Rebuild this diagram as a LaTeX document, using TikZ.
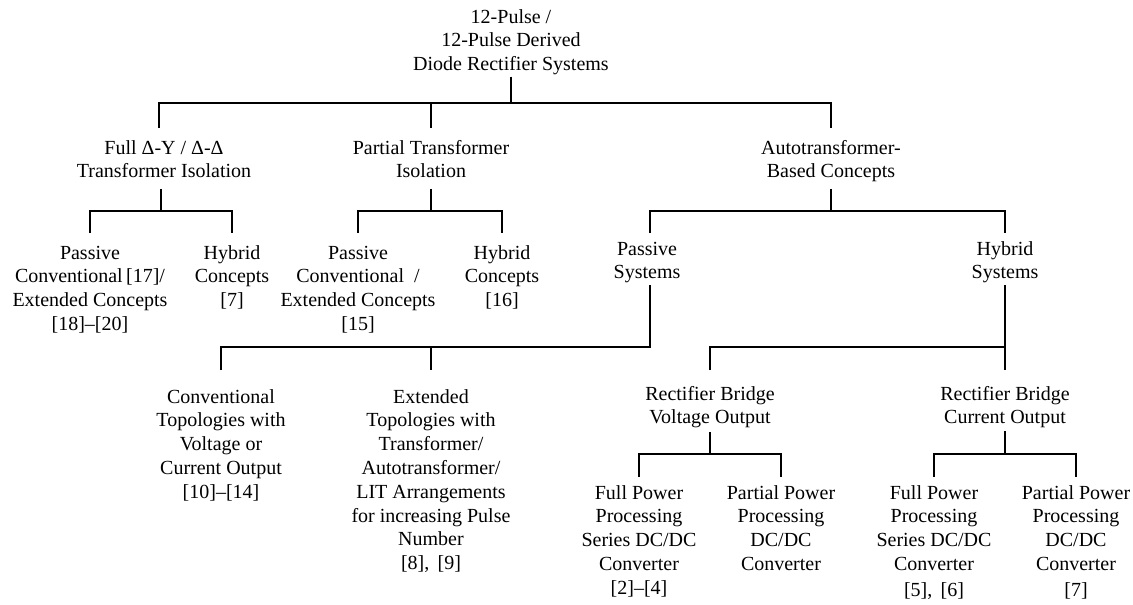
\documentclass[tikz,border=0pt]{standalone}
\usepackage{fontspec}
\setmainfont{Liberation Serif}
\newcommand{\mystrut}{\rule[-6pt]{0pt}{21pt}}
\begin{document}
\begin{tikzpicture}[x=1pt,y=-1pt,
  lbl/.style={align=center, inner sep=0pt, outer sep=0pt, anchor=north,
    font=\fontsize{20}{23.8}\selectfont},
  link/.style={line width=1.6pt, draw=black}]
\useasboundingbox (0,0) rectangle (1133,605);

% nodes (y = first baseline - 15)
\node[lbl] (root) at (511,8) {\mystrut 12-Pulse /\\12-Pulse Derived\\Diode Rectifier Systems\mystrut};
\node[lbl] (full) at (164,139) {\mystrut Full Δ-Y / Δ-Δ\\Transformer Isolation\mystrut};
\node[lbl] (partial) at (431,139) {\mystrut Partial Transformer\\Isolation\mystrut};
\node[lbl] (auto) at (831,139) {\mystrut Autotransformer-\\Based Concepts\mystrut};

\node[lbl] (fp) at (90,244) {\mystrut Passive\\Conventional\,[17]/\\Extended Concepts\\\mystrut{}[18]–[20]\mystrut};
\node[lbl] (fh) at (232,244) {\mystrut Hybrid\\Concepts\\\mystrut{}[7]\mystrut};
\node[lbl] (pp) at (358,244) {\mystrut Passive\\Conventional\ \ /\\Extended Concepts\\\mystrut{}[15]\mystrut};
\node[lbl] (ph) at (502,244) {\mystrut Hybrid\\Concepts\\\mystrut{}[16]\mystrut};
\node[lbl] (ps) at (647,240) {\mystrut Passive\\Systems\mystrut};
\node[lbl] (hs) at (1005,240) {\mystrut Hybrid\\Systems\mystrut};

\node[lbl] (conv) at (221,388) {\mystrut Conventional\\Topologies with\\Voltage or\\Current Output\\\mystrut{}[10]–[14]\mystrut};
\node[lbl] (ext) at (431,388) {\mystrut Extended\\Topologies with\\Transformer/\\Autotransformer/\\LIT Arrangements\\for increasing Pulse\\Number\\\mystrut{}[8],\ \,[9]\mystrut};
\node[lbl] (rv) at (710,385) {\mystrut Rectifier Bridge\\Voltage Output\mystrut};
\node[lbl] (rc) at (1005,385) {\mystrut Rectifier Bridge\\Current Output\mystrut};

\node[lbl] (rv1) at (639,484) {\mystrut Full Power\\Processing\\Series DC/DC\\Converter\\\mystrut{}[2]–[4]\mystrut};
\node[lbl] (rv2) at (781,484) {\mystrut Partial Power\\Processing\\DC/DC\\Converter\mystrut};
\node[lbl] (rc1) at (934,484) {\mystrut Full Power\\Processing\\Series DC/DC\\Converter\\[2pt]\mystrut{}[5],\ \,[6]\mystrut};
\node[lbl] (rc2) at (1076,484) {\mystrut Partial Power\\Processing\\DC/DC\\Converter\\[2pt]\mystrut{}[7]\mystrut};

% junction levels
\coordinate (h0) at (0,103);
\coordinate (h1) at (0,211);
\coordinate (h2) at (0,347);
\coordinate (h3) at (0,454);

% level 1
\draw[link] (root.south) -- (root.south |- h0);
\draw[link] ([xshift=-5pt,yshift=11pt]full.north) |- (root.south |- h0) -| ([yshift=11pt]auto.north);
\draw[link] ([yshift=11pt]partial.north) -- (partial.north |- h0);

% level 2
\draw[link] ([xshift=-3pt,yshift=-5pt]full.south) -- ([xshift=-3pt]full.south |- h1);
\draw[link] ([yshift=11pt]fp.north) |- ([xshift=-3pt]full.south |- h1) -| ([yshift=11pt]fh.north);
\draw[link] ([yshift=-5pt]partial.south) -- (partial.south |- h1);
\draw[link] ([yshift=11pt]pp.north) |- (partial.south |- h1) -| ([yshift=11pt]ph.north);
\draw[link] ([yshift=-5pt]auto.south) -- (auto.south |- h1);
\draw[link] ([xshift=3pt,yshift=7pt]ps.north) |- (auto.south |- h1) -| ([yshift=7pt]hs.north);

% level 3
\draw[link] ([yshift=18pt]conv.north) |- ([xshift=3pt]ps.south |- h2) -- ([xshift=3pt]ps.south);
\draw[link] ([yshift=18pt]ext.north) -- (ext.north |- h2);
\draw[link] (hs.south) -- ([yshift=15pt]rc.north);
\draw[link] ([yshift=15pt]rv.north) |- (hs.south |- h2);

% level 4
\draw[link] ([yshift=-2pt]rv.south) -- (rv.south |- h3);
\draw[link] ([yshift=7pt]rv1.north) |- (rv.south |- h3) -| ([yshift=7pt]rv2.north);
\draw[link] ([yshift=-1pt]rc.south) -- (rc.south |- h3);
\draw[link] ([yshift=7pt]rc1.north) |- (rc.south |- h3) -| ([yshift=7pt]rc2.north);
\end{tikzpicture}
\end{document}
